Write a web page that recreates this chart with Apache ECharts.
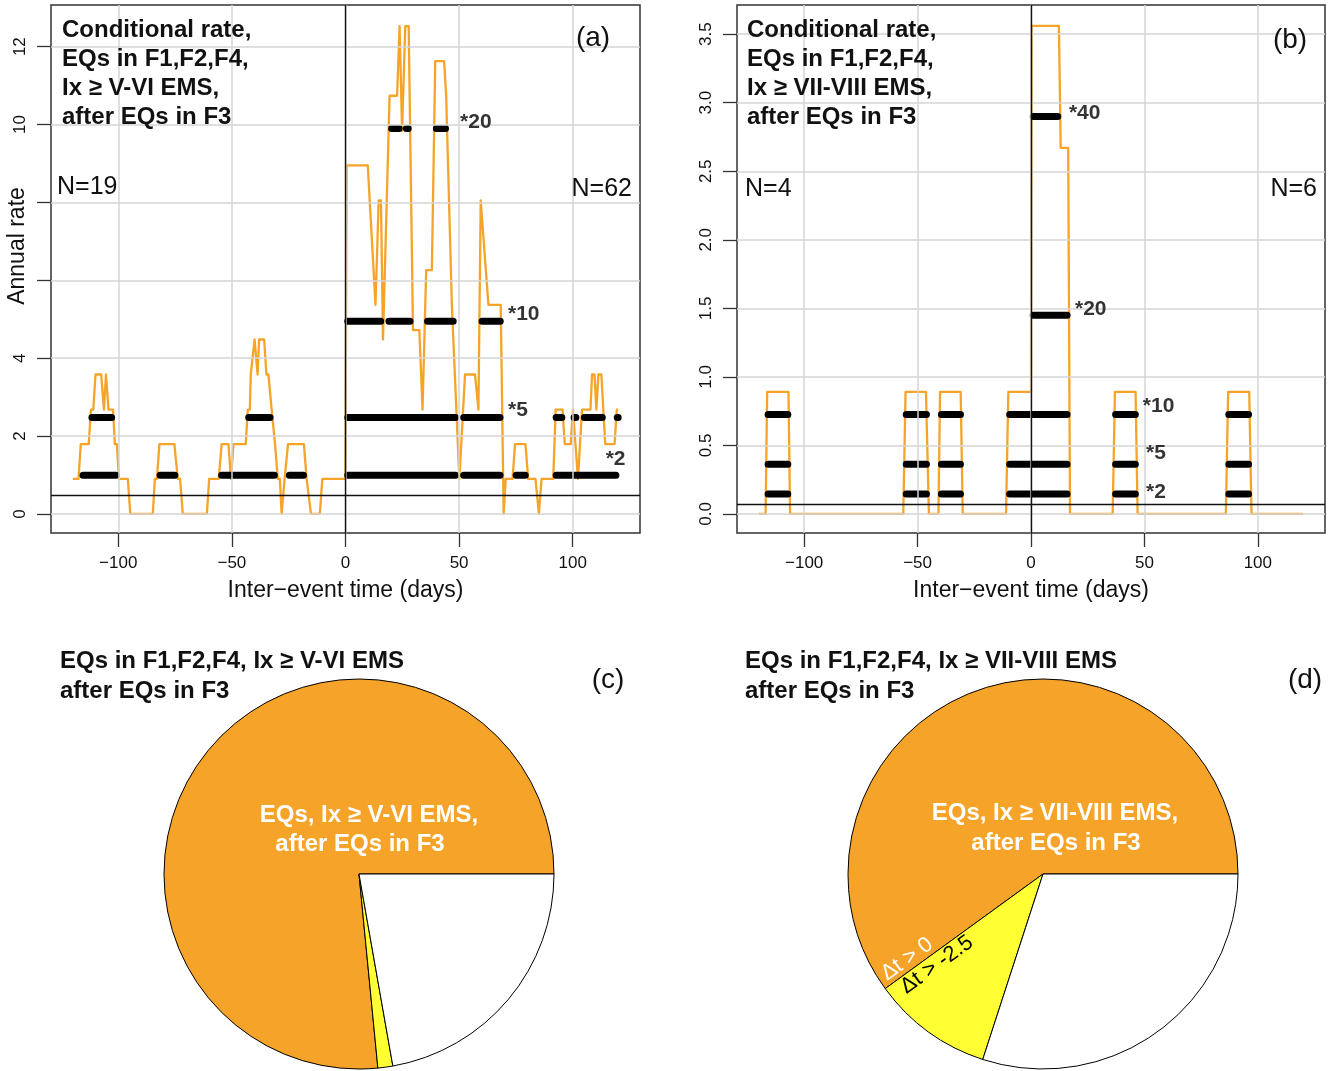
<!DOCTYPE html>
<html>
<head>
<meta charset="utf-8">
<script src="https://cdn.jsdelivr.net/npm/echarts@6/dist/echarts.min.js"></script>
<style>
  html, body { margin: 0; padding: 0; background: #ffffff; }
  #chart { width: 1336px; height: 1071px; }
</style>
</head>
<body>
<div id="chart"></div>
<script>
// ---------------- data ----------------
// Tick values
const xTicks = [-100, -50, 0, 50, 100];
const yTicksA = [0, 2, 4, 6, 8, 10, 12];
const yLabelsA = [0, 2, 4, 10, 12];          // 6 and 8 sit under the axis title
const yTicksB = [0, 0.5, 1, 1.5, 2, 2.5, 3, 3.5];

// Panel (a): conditional annual rate vs. inter-event time (days), Ix >= V-VI EMS
const rateA = [
  [-120, 0.9], [-117.5, 0.9], [-116.5, 1.79], [-113, 1.79], [-112, 2.68], [-111, 2.68],
  [-110, 3.58], [-107.5, 3.58], [-106.3, 2.68], [-105.4, 3.58], [-104.3, 2.68], [-102.3, 2.68],
  [-101.5, 1.79], [-100.6, 1.79], [-99.7, 0.9], [-95.8, 0.9], [-94.7, 0], [-84.8, 0],
  [-83.9, 0.9], [-83, 0.9], [-81.9, 1.79], [-75.3, 1.79], [-73.8, 0.9], [-72.8, 0.9],
  [-71.6, 0], [-61, 0], [-60, 0.9], [-55.8, 0.9], [-54.5, 1.79], [-51.5, 1.79],
  [-50.4, 0.9], [-49.3, 1.79], [-43.9, 1.79], [-43, 2.68], [-42.1, 2.68], [-41.7, 3.58],
  [-40.9, 3.58], [-40, 4.48], [-38.7, 3.58], [-38, 4.48], [-35.8, 4.48], [-34.8, 3.58],
  [-33.9, 3.58], [-32.5, 2.68], [-31.7, 2.68], [-31, 1.79], [-30.6, 1.79], [-29.8, 0.9],
  [-28.9, 0.9], [-28.1, 0], [-26.8, 0.9], [-25.3, 1.79], [-18.3, 1.79], [-17.1, 0.9],
  [-16.4, 0.9], [-15.2, 0], [-11.3, 0], [-10.2, 0.9], [0, 0.9], [0.5, 8.95],
  [9.8, 8.95], [13.2, 5.37], [13.9, 5.37], [14.6, 8.05], [15.6, 8.05], [16.5, 4.48],
  [17.2, 4.48], [19.4, 10.74], [22.7, 10.74], [23.8, 12.53], [24.9, 9.84], [26.3, 12.53],
  [27.8, 12.53], [29.7, 4.72], [32.5, 4.72], [33.9, 2.68], [35.5, 6.26], [38, 6.26],
  [39.5, 11.63], [43.4, 11.63], [44.3, 10.74], [46.8, 5.37], [47.5, 5.37], [50.1, 0.9],
  [52.6, 3.58], [57, 3.58], [58.5, 2.68], [59.5, 8.05], [62.9, 5.37], [68.3, 5.37],
  [69.6, 0], [70.5, 0.9], [73.5, 0.9], [74.6, 1.79], [79.2, 1.79], [80.4, 0.9],
  [83.6, 0.9], [85.1, 0], [86.3, 0.9], [91.4, 0.9], [92.5, 2.68], [95.5, 2.68],
  [96.5, 1.79], [99.1, 1.79], [100.1, 2.68], [102.3, 0.9], [104.1, 2.68], [107.8, 2.68],
  [108.5, 3.58], [109.6, 3.58], [110.4, 2.68], [111.3, 3.58], [112.6, 3.58], [114.3, 1.79],
  [118.4, 1.79], [119.4, 2.68], [120, 2.68]
];
const baseRateA = 0.495;
// Day intervals where the rate exceeds k times the base rate
const aboveA2 = [[-115.5, -101], [-81.6, -75.1], [-54.5, -31.3], [-24.7, -18.5],
                 [1, 48.4], [52, 68], [75.1, 79.1], [92.7, 119]];
const aboveA5 = [[-111.6, -102.9], [-42.6, -33.2], [1, 48.4], [52, 68], [92.7, 95.2],
                 [100.6, 101.4], [105.1, 113], [119.6, 120]];
const aboveA10 = [[1, 15.5], [19.1, 28.4], [36.1, 47.4], [60.1, 68.1]];
const aboveA20 = [[20.3, 23.6], [26.8, 27.6], [40, 44]];
const countsA = { before: 19, after: 62 };

// Panel (b): same for Ix >= VII-VIII EMS
const rateB = [
  [-120, 0], [-117, 0], [-116.3, 0.89], [-106.9, 0.89], [-106.2, 0], [-56.3, 0],
  [-55.3, 0.89], [-46.3, 0.89], [-45, 0], [-40.8, 0], [-40.1, 0.89], [-31, 0.89],
  [-30.1, 0], [-11, 0], [-10, 0.89], [0, 0.89], [0.2, 3.56], [12.3, 3.56],
  [13.1, 2.67], [16.4, 2.67], [17.2, 0], [36, 0], [37, 0.89], [46.1, 0.89],
  [47, 0], [85.9, 0], [86.9, 0.89], [96.2, 0.89], [97.2, 0], [120, 0]
];
const baseRateB = 0.0725;
const aboveB2 = [[-115.9, -107.2], [-55, -46.1], [-39.5, -31.1], [-9.4, 15.9], [37.3, 46], [87.2, 95.9]];
const aboveB5 = [[-115.9, -107.2], [-55, -46.1], [-39.5, -31.1], [-9.4, 15.9], [37.3, 46], [87.2, 95.9]];
const aboveB10 = [[-115.9, -107.2], [-55, -46.1], [-39.5, -31.1], [-9.4, 15.9], [37.3, 46], [87.2, 95.9]];
const aboveB20 = [[1, 15.9]];
const aboveB40 = [[1, 11.8]];
const countsB = { before: 4, after: 6 };

// Ratio annotations: [day, rate, text]
const ratioLabelsA = [[50.4, 10.05, '*20'], [71.5, 5.13, '*10'], [71.5, 2.67, '*5'], [114.5, 1.41, '*2']];
const ratioLabelsB = [[16.7, 2.925, '*40'], [19.4, 1.495, '*20'], [49.3, 0.788, '*10'], [50.7, 0.445, '*5'], [50.7, 0.16, '*2']];

// Pies (c), (d): events after F3 (Δt > 0), in (-2.5, 0], and the rest
const pieNames = ['Δt > 0', 'Δt > -2.5', 'other'];
const pieC = [62, 1, 18];
const pieD = [6, 1, 3];

// ---------------- styling ----------------
const FONT = '"Liberation Sans", Arial, Helvetica, sans-serif';
const ORANGE = '#F6A429';
const YELLOW = '#FFFF33';
const GRIDGRAY = '#D4D4D4';

const chart = echarts.init(document.getElementById('chart'), null, { renderer: 'canvas' });

function bandSeries(gridIdx, bands, level) {
  const data = [];
  bands.forEach(([s, e]) => {
    data.push([s, level], [e, level], [e, '-']);
  });
  return {
    type: 'line', xAxisIndex: gridIdx, yAxisIndex: gridIdx, data,
    symbol: 'none', silent: true, z: 4, connectNulls: false,
    lineStyle: { color: '#000', width: 7, cap: 'round', join: 'round' }
  };
}

function gridLineSeries(gridIdx, yTicks) {
  return {
    type: 'line', xAxisIndex: gridIdx, yAxisIndex: gridIdx, data: [], symbol: 'none', z: 1,
    silent: true,
    markLine: {
      silent: true, symbol: ['none', 'none'], label: { show: false }, animation: false,
      lineStyle: { color: GRIDGRAY, width: 1.5, type: 'solid' },
      emphasis: { disabled: true },
      data: xTicks.map(v => ({ xAxis: v })).concat(yTicks.map(v => ({ yAxis: v })))
    }
  };
}

function refLineSeries(gridIdx, base) {
  return {
    type: 'line', xAxisIndex: gridIdx, yAxisIndex: gridIdx, data: [], symbol: 'none', z: 5,
    silent: true,
    markLine: {
      silent: true, symbol: ['none', 'none'], label: { show: false }, animation: false,
      lineStyle: { color: '#111', width: 1.4, type: 'solid' },
      emphasis: { disabled: true },
      data: [{ xAxis: 0 }, { yAxis: base }]
    }
  };
}

function rateSeries(gridIdx, data) {
  return {
    type: 'line', xAxisIndex: gridIdx, yAxisIndex: gridIdx, data,
    symbol: 'none', silent: true, z: 3,
    lineStyle: { color: ORANGE, width: 2.3, join: 'round' }
  };
}

function ratioLabelSeries(gridIdx, labels) {
  return {
    type: 'scatter', xAxisIndex: gridIdx, yAxisIndex: gridIdx, z: 6, silent: true,
    symbolSize: 0,
    data: labels.map(l => ({ value: [l[0], l[1]], name: l[2] })),
    label: {
      show: true, position: 'inside', align: 'left', verticalAlign: 'middle',
      formatter: p => p.name, color: '#000', fontSize: 21, fontWeight: 'bold', fontFamily: FONT
    }
  };
}

function xAxisFor(gridIdx) {
  return {
    type: 'value', gridIndex: gridIdx, min: -129.6, max: 129.6,
    splitLine: { show: false },
    axisLine: { show: false, onZero: false },
    axisTick: { show: true, length: 14, inside: false, customValues: xTicks,
                lineStyle: { color: '#333', width: 1.3 } },
    axisLabel: { customValues: xTicks, margin: 22, fontSize: 17, color: '#111', fontFamily: FONT,
                 formatter: v => String(v).replace('-', '\u2212') }
  };
}

function yAxisFor(gridIdx, min, max, ticks, labels, fmt) {
  return {
    type: 'value', gridIndex: gridIdx, min, max,
    splitLine: { show: false },
    axisLine: { show: false, onZero: false },
    axisTick: { show: true, length: 14, inside: false, customValues: ticks,
                lineStyle: { color: '#333', width: 1.3 } },
    axisLabel: { customValues: labels, rotate: 90, margin: 22, fontSize: 17, color: '#111',
                 fontFamily: FONT, formatter: fmt }
  };
}

function pieSeries(center, values) {
  const colors = [ORANGE, YELLOW, '#ffffff'];
  return {
    type: 'pie', center, radius: 195, startAngle: 0, clockwise: false, silent: true,
    avoidLabelOverlap: false, label: { show: false }, labelLine: { show: false },
    emphasis: { disabled: true },
    itemStyle: { borderColor: '#000', borderWidth: 1 },
    data: values.map((v, i) => ({ value: v, name: pieNames[i], itemStyle: { color: colors[i] } }))
  };
}

function text(x, y, s, o = {}) {
  return {
    type: 'text', x, y, rotation: o.rotation || 0, z: 100, silent: true,
    style: {
      text: s, fill: o.color || '#111',
      font: `${o.weight || 'normal'} ${o.size || 24}px ${FONT}`,
      align: o.align || 'left', verticalAlign: o.valign || 'middle',
      lineHeight: o.lineHeight
    }
  };
}

// Δt labels laid along the orange/yellow boundary of a pie
function boundaryLabels(cx, cy, values) {
  const total = values.reduce((a, b) => a + b, 0);
  const theta = 2 * Math.PI * values[0] / total;
  const dir = [Math.cos(theta), -Math.sin(theta)];
  const rot = theta - Math.PI;
  const p0 = [cx + 189 * dir[0], cy + 189 * dir[1]];
  const p1 = [cx + 181 * dir[0], cy + 181 * dir[1]];
  return [
    text(p0[0], p0[1], 'Δt > 0', { color: '#ffffff', size: 22, rotation: rot, valign: 'bottom' }),
    text(p1[0], p1[1], 'Δt > -2.5', { color: '#000000', size: 22, rotation: rot, valign: 'top' })
  ];
}

const graphics = [
  // panel (a)
  text(62, 16, 'Conditional rate,\nEQs in F1,F2,F4,\nIx ≥ V-VI EMS,\nafter EQs in F3',
       { weight: 'bold', size: 24, valign: 'top', lineHeight: 29 }),
  text(57, 187, 'N=' + countsA.before, { size: 25 }),
  text(632, 189, 'N=' + countsA.after, { size: 25, align: 'right' }),
  text(593, 38, '(a)', { size: 28, align: 'center' }),
  text(18, 246, 'Annual rate', { size: 23, align: 'center', rotation: Math.PI / 2 }),
  text(345.5, 591, 'Inter\u2212event time (days)', { size: 23, align: 'center' }),
  // panel (b)
  text(747, 16, 'Conditional rate,\nEQs in F1,F2,F4,\nIx ≥ VII-VIII EMS,\nafter EQs in F3',
       { weight: 'bold', size: 24, valign: 'top', lineHeight: 29 }),
  text(745, 189, 'N=' + countsB.before, { size: 25 }),
  text(1317, 189, 'N=' + countsB.after, { size: 25, align: 'right' }),
  text(1290, 40, '(b)', { size: 28, align: 'center' }),
  text(1031, 591, 'Inter\u2212event time (days)', { size: 23, align: 'center' }),
  // pie (c)
  text(60, 646, 'EQs in F1,F2,F4, Ix ≥ V-VI EMS\nafter EQs in F3',
       { weight: 'bold', size: 24, valign: 'top', lineHeight: 30 }),
  text(608, 680, '(c)', { size: 28, align: 'center' }),
  text(369, 815, 'EQs, Ix ≥ V-VI EMS,', { weight: 'bold', size: 24, align: 'center', color: '#ffffff' }),
  text(360, 844, 'after EQs in F3', { weight: 'bold', size: 24, align: 'center', color: '#ffffff' }),
  // pie (d)
  text(745, 646, 'EQs in F1,F2,F4, Ix ≥ VII-VIII EMS\nafter EQs in F3',
       { weight: 'bold', size: 24, valign: 'top', lineHeight: 30 }),
  text(1305, 680, '(d)', { size: 28, align: 'center' }),
  text(1055, 813, 'EQs, Ix ≥ VII-VIII EMS,', { weight: 'bold', size: 24, align: 'center', color: '#ffffff' }),
  text(1056, 843, 'after EQs in F3', { weight: 'bold', size: 24, align: 'center', color: '#ffffff' })
].concat(boundaryLabels(1043, 874, pieD));

const option = {
  animation: false,
  backgroundColor: '#ffffff',
  textStyle: { fontFamily: FONT },
  grid: [
    { left: 51, top: 5, width: 589, height: 528, show: true, borderColor: '#333', borderWidth: 1.5,
      backgroundColor: 'transparent', containLabel: false, outerBoundsMode: 'none' },
    { left: 737, top: 5, width: 588, height: 528, show: true, borderColor: '#333', borderWidth: 1.5,
      backgroundColor: 'transparent', containLabel: false, outerBoundsMode: 'none' }
  ],
  xAxis: [xAxisFor(0), xAxisFor(1)],
  yAxis: [
    yAxisFor(0, -0.49, 13.07, yTicksA, yLabelsA, v => String(v)),
    yAxisFor(1, -0.139, 3.713, yTicksB, yTicksB, v => v.toFixed(1))
  ],
  series: [
    gridLineSeries(0, yTicksA),
    gridLineSeries(1, yTicksB),
    rateSeries(0, rateA),
    rateSeries(1, rateB),
    bandSeries(0, aboveA2, baseRateA * 2),
    bandSeries(0, aboveA5, baseRateA * 5),
    bandSeries(0, aboveA10, baseRateA * 10),
    bandSeries(0, aboveA20, baseRateA * 20),
    bandSeries(1, aboveB2, baseRateB * 2),
    bandSeries(1, aboveB5, baseRateB * 5),
    bandSeries(1, aboveB10, baseRateB * 10),
    bandSeries(1, aboveB20, baseRateB * 20),
    bandSeries(1, aboveB40, baseRateB * 40),
    refLineSeries(0, baseRateA),
    refLineSeries(1, baseRateB),
    ratioLabelSeries(0, ratioLabelsA),
    ratioLabelSeries(1, ratioLabelsB),
    pieSeries([359, 874], pieC),
    pieSeries([1043, 874], pieD)
  ],
  graphic: graphics
};

chart.setOption(option);
</script>
</body>
</html>
